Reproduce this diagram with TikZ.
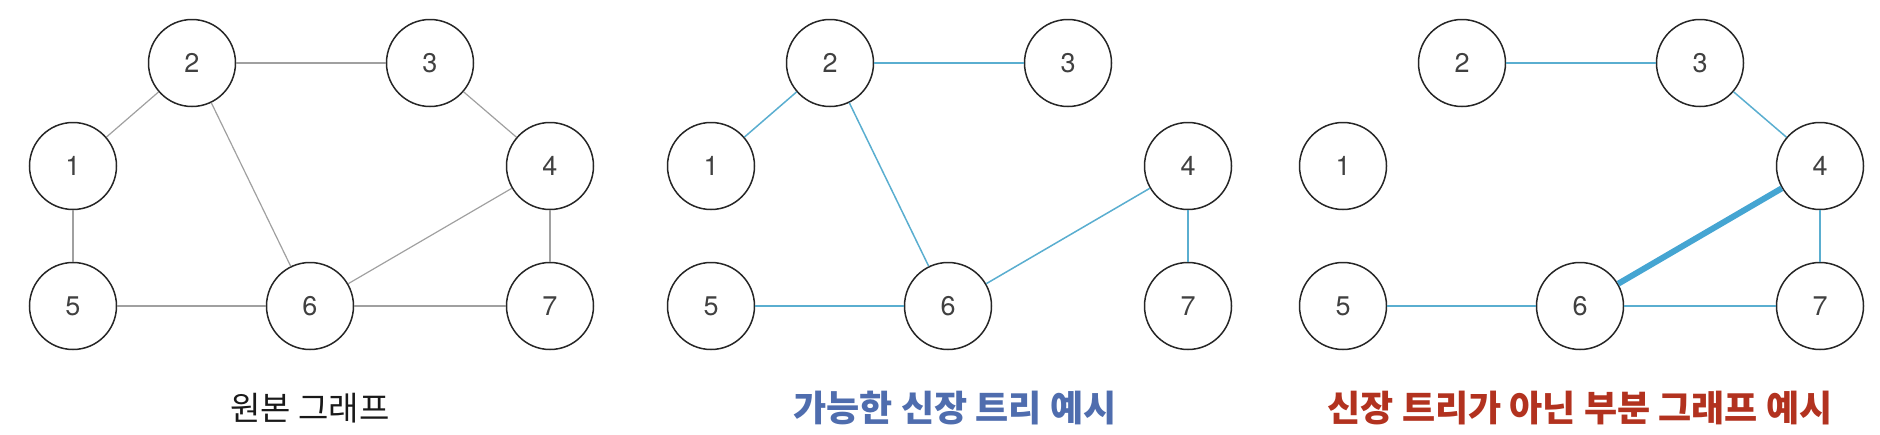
\documentclass[tikz,border=0pt]{standalone}
\usepackage{fontspec}
\setmainfont{TeX Gyre Heros}
\newfontfamily\krfont{Noto Sans CJK KR}
\usetikzlibrary{positioning}
\definecolor{edgegray}{HTML}{A0A0A0}
\definecolor{edgeblue}{HTML}{5AAED0}
\definecolor{thickblue}{HTML}{45A5D2}
\definecolor{capblue}{HTML}{4F6DAE}
\definecolor{capred}{HTML}{B2321F}
\tikzset{>=latex}

\begin{document}
\begin{tikzpicture}[x=0.5pt,y=-0.5pt,
  vertex/.style={circle, draw=black!85, line width=0.75pt, minimum size=43.5pt, inner sep=0pt,
    text=black!75, font=\fontsize{13.5}{13.5}\selectfont},
  orig/.style={draw=edgegray, line width=0.6pt},
  tree/.style={draw=edgeblue, line width=0.75pt},
  cycle/.style={draw=thickblue, line width=3pt},
  caption/.style={font=\krfont\fontsize{16.5}{16.5}\selectfont},
  boldcap/.style={font=\krfont\bfseries\fontsize{18}{18}\selectfont},
  on grid]
	\useasboundingbox (0,0) rectangle (1880,434);
	\foreach \p/\dx in {a/0, b/319, c/635} {
		\begin{scope}[xshift=\dx pt]
		\node[vertex] (\p1) at (73,166) {1};
		\node[vertex] (\p2) [above right=51.5pt and 59.5pt of \p1] {2};
		\node[vertex] (\p3) [right=119pt of \p2] {3};
		\node[vertex] (\p4) [below right=51.5pt and 60pt of \p3] {4};
		\node[vertex] (\p5) [below=70pt of \p1] {5};
		\node[vertex] (\p6) [right=118.5pt of \p5] {6};
		\node[vertex] (\p7) [below=70pt of \p4] {7};
		\end{scope}
	}
	% original graph
	\path[orig]
		(a1) edge (a2) edge (a5)
		(a2) edge (a3) edge (a6)
		(a3) edge (a4)
		(a4) edge (a6) edge (a7)
		(a5) edge (a6)
		(a6) edge (a7);
	% spanning tree
	\path[tree]
		(b1) edge (b2)
		(b2) edge (b3) edge (b6)
		(b4) edge (b6) edge (b7)
		(b5) edge (b6);
	% subgraph with a cycle
	\path[tree]
		(c2) edge (c3)
		(c3) edge (c4)
		(c4) edge (c7)
		(c5) edge (c6)
		(c6) edge (c7);
	\path[cycle] (c4) edge (c6);
	\node[caption, text=black!90] (capa) at (310,408) {원본 그래프};
	\node[boldcap, text=capblue] (capb) at (955,408) {가능한 신장 트리 예시};
	\node[boldcap, text=capred] (capc) at (1580,408) {신장 트리가 아닌 부분 그래프 예시};
\end{tikzpicture}
\end{document}
